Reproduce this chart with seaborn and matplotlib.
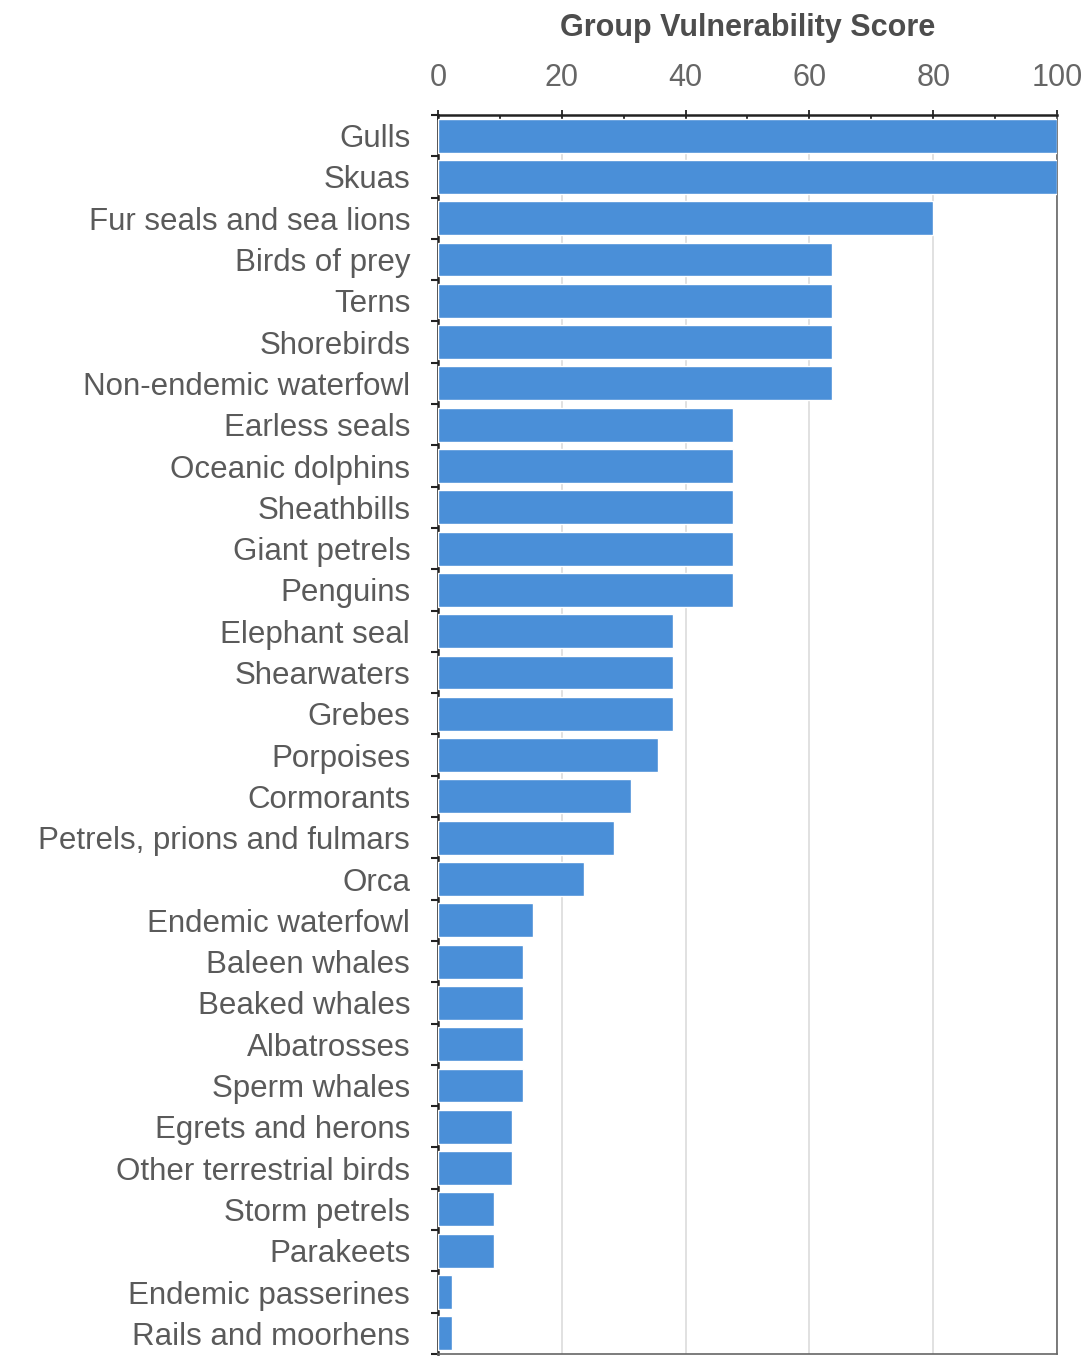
import matplotlib
matplotlib.use("Agg")
import matplotlib.pyplot as plt
import seaborn as sns
import pandas as pd
from matplotlib.ticker import MultipleLocator

categories = [
    "Gulls", "Skuas", "Fur seals and sea lions", "Birds of prey", "Terns",
    "Shorebirds", "Non-endemic waterfowl", "Earless seals", "Oceanic dolphins",
    "Sheathbills", "Giant petrels", "Penguins", "Elephant seal", "Shearwaters",
    "Grebes", "Porpoises", "Cormorants", "Petrels, prions and fulmars", "Orca",
    "Endemic waterfowl", "Baleen whales", "Beaked whales", "Albatrosses",
    "Sperm whales", "Egrets and herons", "Other terrestrial birds",
    "Storm petrels", "Parakeets", "Endemic passerines", "Rails and moorhens",
]
scores = [
    100, 100, 80, 63.6, 63.6,
    63.6, 63.6, 47.7, 47.7,
    47.7, 47.7, 47.7, 38.0, 38.0,
    38.0, 35.5, 31.2, 28.4, 23.6,
    15.3, 13.7, 13.7, 13.7,
    13.7, 12.0, 12.0,
    9.0, 9.0, 2.3, 2.3,
]
x_ticks = [0, 20, 40, 60, 80, 100]

df = pd.DataFrame({"group": categories, "score": scores})

sns.set_theme(style="white")
plt.rcParams["font.family"] = ["Liberation Sans", "DejaVu Sans"]

fig = plt.figure(figsize=(10.91, 13.56), dpi=100)
ax = fig.add_axes([438 / 1091, 0.0015, (1057 - 438) / 1091, (1354 - 115) / 1356])

sns.barplot(data=df, x="score", y="group", orient="h", color="#4A8FD8",
            saturation=1, width=0.82, ax=ax, zorder=3)

ax.set_xlim(0, 100)
ax.set_ylim(len(categories) - 0.5, -0.5)
ax.xaxis.tick_top()
ax.xaxis.set_label_position("top")
ax.set_xticks(x_ticks)
ax.xaxis.set_minor_locator(MultipleLocator(10))
ax.set_xlabel("Group Vulnerability Score", fontsize=22, fontweight="bold",
              color="#4d4d4d", labelpad=20)
ax.set_ylabel("")

# y ticks at category boundaries, labels at centers
ax.set_yticks(range(len(categories)))
ax.set_yticklabels(categories)
ax.set_yticks([i - 0.5 for i in range(len(categories) + 1)], minor=True)
ax.tick_params(axis="y", which="major", length=0, pad=20, labelsize=22.5,
               labelcolor="#5a5a5a")
ax.tick_params(axis="y", which="minor", length=5, width=1.5, color="#222222",
               direction="out", left=True)
ax.tick_params(axis="x", which="major", length=7, width=1.3, color="#222222",
               direction="inout", labelsize=22, labelcolor="#666666", pad=12)
ax.tick_params(axis="x", which="minor", length=5, width=1.3, color="#222222",
               direction="in", top=True, bottom=False)

ax.grid(axis="x", which="major", color="#dcdcdc", linewidth=1.2, zorder=0)
ax.grid(axis="y", visible=False)
for side in ["top", "left"]:
    ax.spines[side].set_color("#222222")
    ax.spines[side].set_linewidth(1.8)
for side in ["right", "bottom"]:
    ax.spines[side].set_color("#666666")
    ax.spines[side].set_linewidth(1.2)

fig.savefig("out.png", dpi=100, facecolor="white")
